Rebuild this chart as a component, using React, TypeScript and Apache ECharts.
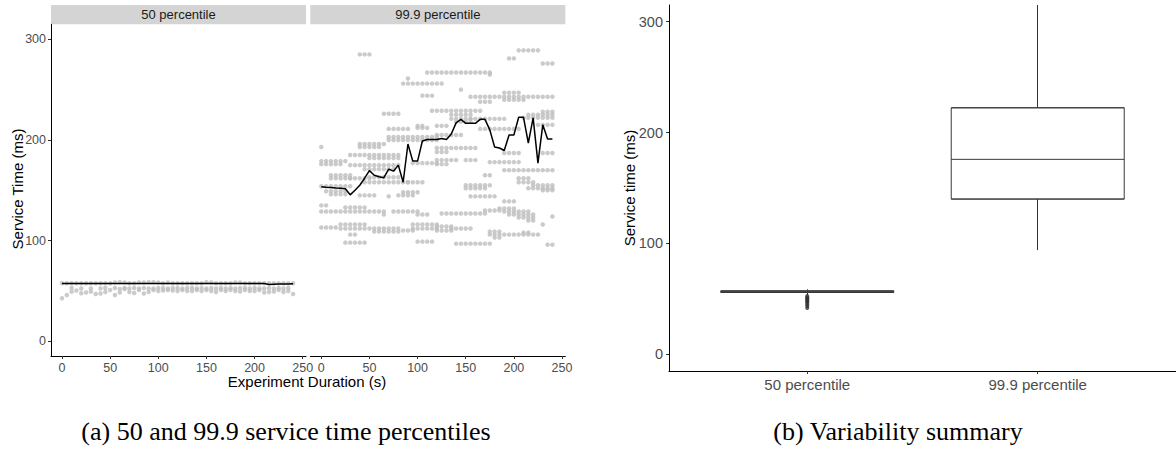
import React, { useEffect, useRef } from "react";
import * as echarts from "echarts";

// ---------- data ----------
const times = [0, 5, 10, 15, 20, 25, 30, 35, 40, 45, 50, 55, 60, 65, 70, 75, 80, 85, 90, 95, 100, 105, 110, 115, 120, 125, 130, 135, 140, 145, 150, 155, 160, 165, 170, 175, 180, 185, 190, 195, 200, 205, 210, 215, 220, 225, 230, 235, 240];

const p50Top = [57.6, 57.6, 57.6, 57.6, 57.6, 57.6, 57.6, 57.6, 57.6, 57.6, 57.6, 58.4, 58.8, 58.4, 57.6, 57.6, 58.4, 58.4, 58.8, 58.8, 58.4, 57.6, 58.4, 57.6, 57.6, 57.6, 57.6, 57.6, 57.6, 57.6, 58.8, 58.4, 57.6, 57.6, 57.6, 57.6, 58.4, 58.4, 57.6, 57.6, 57.6, 57.6, 57.6, 57.6, 57.6, 57.6, 57.6, 57.6, 57.6];
const p50Mid = [null, null, 53, null, 52.5, null, 52.5, null, 52.5, 53, null, 53, 52, 53, 52.5, 53, 52.5, 53, 52.5, 52.5, 53, 53, 52.5, 53, 53, 52.5, 53, 53, 52.5, 53, 52.5, 53, 52.5, 53, 52.5, 53, 52.5, 53, 53, 52.5, 53, 52.5, 52.5, 53, 52.5, 53, 52.5, 53, null];
const p50Low = [42.7, 46, 49.3, 50.5, 47.7, 48.5, 49.3, 47, 47.5, 49, 51, 46, 48.5, 52, 49, 48, 51, 47.5, 49, 51, 50, 50.5, 51, 50.5, 50, 51, 50, 50, 51, 50, 51, 50, 49, 51, 50, 51, 50, 49.5, 51, 50, 50, 51, 48.5, 49, 49.5, 51, 49, 50, 47];
const p50Line = [57.5, 57.4, 57.4, 57.4, 57.4, 57.4, 57.4, 57.4, 57.4, 57.4, 57.4, 57.4, 57.3, 57.3, 57.3, 57.3, 57.3, 57.3, 57.3, 57.3, 57.3, 57.3, 57.3, 57.3, 57.3, 57.3, 57.3, 57.3, 57.3, 57.3, 57.3, 57.3, 57.3, 57.3, 57.3, 57.3, 57.3, 57.3, 57.3, 57.3, 57.3, 57.4, 57.4, 56.4, 56.6, 56.8, 57, 57, 57.1];

const p999Line = [153.6, 153, 152.8, 152.3, 152, 151.5, 145.5, 150, 155, 162, 169.5, 165, 163.5, 162.5, 171, 169, 175, 158, 196, 179, 179, 199, 200.5, 200.5, 200.5, 201.5, 200.5, 206, 217, 220.5, 216.5, 216.5, 216.5, 220.5, 220.5, 210, 193, 192, 189.5, 205, 205, 222.5, 222.5, 197, 222, 177, 215, 201, 201];

// runs of dots in the 99.9 panel: [value (ms), first second, last second]
const p999Runs: [number, number, number][] = [
  [285, 40, 50], [289, 205, 225], [281, 195, 200], [276, 230, 240], [267, 110, 175], [265, 175, 175],
  [261, 90, 90], [256, 85, 125], [250, 145, 145], [244, 105, 115], [243, 155, 240], [247, 190, 205],
  [240, 190, 210], [238, 165, 175], [229, 115, 165], [225, 135, 155], [221, 135, 155], [218, 140, 155],
  [226, 65, 80], [221, 155, 190], [228, 230, 240], [225, 215, 240], [222, 210, 240], [215, 225, 240],
  [214, 120, 130], [211, 165, 205], [211, 70, 90], [212, 100, 110], [214, 100, 105], [205, 120, 145],
  [203, 70, 120], [200, 70, 120], [196, 40, 65], [193, 40, 60], [193, 0, 0], [192, 120, 160],
  [188, 120, 130], [187, 190, 205], [187, 230, 240], [185, 30, 80], [182, 50, 80], [180, 120, 140],
  [176, 120, 130], [180, 150, 160], [179, 0, 25], [176, 0, 20], [177, 95, 120], [178, 175, 205],
  [175, 30, 80], [171, 45, 75], [170, 190, 240], [165, 170, 175], [165, 10, 30], [162, 10, 30],
  [162, 30, 50], [163, 50, 80], [158, 45, 90], [158, 90, 105], [162, 205, 215], [158, 205, 220],
  [154, 0, 30], [155, 150, 175], [152, 150, 170], [155, 220, 240], [152, 215, 240], [150, 230, 240],
  [149, 5, 25], [146, 10, 25], [145, 40, 55], [144, 70, 70], [148, 85, 100], [145, 80, 95],
  [144, 155, 180], [139, 190, 200], [135, 0, 5], [133, 25, 45], [129, 0, 65], [126, 65, 65],
  [129, 75, 100], [126, 100, 110], [127, 125, 170], [130, 170, 185], [132, 185, 200], [129, 190, 215],
  [126, 195, 220], [123, 205, 220], [120, 215, 220], [124, 240, 240], [113, 0, 15], [116, 20, 45],
  [112, 20, 45], [112, 50, 80], [109, 55, 80], [110, 85, 95], [116, 95, 120], [112, 95, 120],
  [114, 120, 135], [110, 120, 135], [112, 135, 155], [116, 230, 230], [109, 175, 185], [106, 175, 225],
  [103, 180, 185], [108, 210, 215], [106, 30, 35], [98, 25, 45], [99, 100, 115], [97, 140, 175],
  [96, 235, 240],
];

const boxCategories = ["50 percentile", "99.9 percentile"];
// [position, lower whisker, Q1, median, Q3, upper whisker]
const boxStats = [
  [1, 53.5, 55.8, 56.5, 57.2, 58.6],
  [2, 94, 140, 175.8, 222.3, 315],
];
const p50Outliers = [41.7, 43.5, 45, 46.5, 47.5, 48.5, 49.5, 50.5, 51.5, 52.5];

const xTicks = [0, 50, 100, 150, 200, 250];
const yTicks = [0, 100, 200, 300];
const boxTicks = [1, 2];

const SANS = "'Liberation Sans', Arial, Helvetica, sans-serif";
const SERIF = "'Liberation Serif', 'Times New Roman', serif";

export default function App() {
  const ref = useRef<HTMLDivElement>(null);

  useEffect(() => {
    if (!ref.current) return;
    const chart = echarts.init(ref.current, undefined, { renderer: "svg" });

    const p999Points: number[][] = [];
    p999Runs.forEach(([v, s, e]) => {
      times.forEach((t) => {
        if (t >= s && t <= e) p999Points.push([t, v]);
      });
    });
    const p50Points: number[][] = [];
    [p50Top, p50Mid, p50Low].forEach((arr) =>
      arr.forEach((v, i) => {
        if (v !== null && v !== undefined) p50Points.push([times[i], v as number]);
      })
    );

    const axisLine = { show: true, onZero: false, lineStyle: { color: "#000", width: 1 } };

    const panelX = (gridIndex: number) => ({
      type: "value",
      gridIndex,
      min: -11.4,
      max: 253.4,
      axisLine,
      axisTick: { show: true, customValues: xTicks, length: 3, lineStyle: { color: "#333" } },
      axisLabel: { customValues: xTicks, color: "#4d4d4d", fontSize: 12.5, margin: 5, fontFamily: SANS },
      splitLine: { show: false },
    });

    const option: any = {
      animation: false,
      backgroundColor: "#fff",
      grid: [
        { left: 51, top: 24.3, width: 255, height: 331.7 },
        { left: 310.3, top: 24.3, width: 255, height: 331.7 },
        { left: 669, top: 5, width: 507, height: 366 },
      ],
      xAxis: [
        panelX(0),
        panelX(1),
        {
          type: "value",
          gridIndex: 2,
          min: 0.4,
          max: 2.6,
          axisLine,
          axisTick: { show: true, customValues: boxTicks, length: 3, lineStyle: { color: "#333" } },
          axisLabel: {
            customValues: boxTicks,
            formatter: (v: number) => boxCategories[Math.round(v) - 1] ?? "",
            color: "#4d4d4d",
            fontSize: 15,
            margin: 6,
            fontFamily: SANS,
          },
          splitLine: { show: false },
        },
      ],
      yAxis: [
        {
          type: "value",
          gridIndex: 0,
          min: -14.6,
          max: 314.9,
          axisLine,
          axisTick: { show: true, customValues: yTicks, length: 3, lineStyle: { color: "#333" } },
          axisLabel: { customValues: yTicks, color: "#4d4d4d", fontSize: 12.5, margin: 5, fontFamily: SANS },
          splitLine: { show: false },
        },
        { type: "value", gridIndex: 1, min: -14.6, max: 314.9, show: false, splitLine: { show: false } },
        {
          type: "value",
          gridIndex: 2,
          min: -15.06,
          max: 315,
          axisLine,
          axisTick: { show: true, customValues: yTicks, length: 3, lineStyle: { color: "#333" } },
          axisLabel: { customValues: yTicks, color: "#4d4d4d", fontSize: 14.5, margin: 6, fontFamily: SANS },
          splitLine: { show: false },
        },
      ],
      series: [
        {
          type: "scatter",
          xAxisIndex: 0,
          yAxisIndex: 0,
          data: p50Points,
          symbolSize: 4.5,
          itemStyle: { color: "#bebebe" },
          silent: true,
        },
        {
          type: "line",
          xAxisIndex: 0,
          yAxisIndex: 0,
          data: times.map((t, i) => [t, p50Line[i]]),
          showSymbol: false,
          lineStyle: { color: "#000", width: 1.5 },
          silent: true,
          z: 3,
        },
        {
          type: "scatter",
          xAxisIndex: 1,
          yAxisIndex: 1,
          data: p999Points,
          symbolSize: 4.5,
          itemStyle: { color: "#bebebe" },
          silent: true,
        },
        {
          type: "line",
          xAxisIndex: 1,
          yAxisIndex: 1,
          data: times.map((t, i) => [t, p999Line[i]]),
          showSymbol: false,
          lineStyle: { color: "#000", width: 1.5 },
          silent: true,
          z: 3,
        },
        {
          type: "boxplot",
          xAxisIndex: 2,
          yAxisIndex: 2,
          data: boxStats.map((b) => [b[0], b[2], b[2], b[3], b[4], b[4]]),
          boxWidth: [173, 173],
          itemStyle: { color: "#fff", borderColor: "#3a3a3a", borderWidth: 1 },
          silent: true,
        },
        {
          type: "lines",
          coordinateSystem: "cartesian2d",
          xAxisIndex: 2,
          yAxisIndex: 2,
          data: boxStats.flatMap((b) => [
            { coords: [[b[0], b[1]], [b[0], b[2]]] },
            { coords: [[b[0], b[4]], [b[0], b[5]]] },
          ]),
          lineStyle: { color: "#333", width: 1, opacity: 1 },
          silent: true,
        },
        {
          type: "scatter",
          xAxisIndex: 2,
          yAxisIndex: 2,
          data: p50Outliers.map((v) => [1, v]),
          symbolSize: 4,
          itemStyle: { color: "#333" },
          silent: true,
        },
      ],
      graphic: [
        { type: "rect", shape: { x: 51, y: 5, width: 255, height: 19.3 }, style: { fill: "#d4d4d4" }, silent: true },
        { type: "rect", shape: { x: 310.3, y: 5, width: 255, height: 19.3 }, style: { fill: "#d4d4d4" }, silent: true },
        {
          type: "text", x: 178.5, y: 14.7, silent: true,
          style: { text: "50 percentile", fontSize: 13, fontFamily: SANS, fill: "#1a1a1a", align: "center", verticalAlign: "middle" },
        },
        {
          type: "text", x: 437.8, y: 14.7, silent: true,
          style: { text: "99.9 percentile", fontSize: 13, fontFamily: SANS, fill: "#1a1a1a", align: "center", verticalAlign: "middle" },
        },
        {
          type: "text", x: 307, y: 381, silent: true,
          style: { text: "Experiment Duration (s)", fontSize: 15, fontFamily: SANS, fill: "#000", align: "center", verticalAlign: "middle" },
        },
        {
          type: "text", x: 17, y: 189, rotation: Math.PI / 2, silent: true,
          style: { text: "Service Time (ms)", fontSize: 15, fontFamily: SANS, fill: "#000", align: "center", verticalAlign: "middle" },
        },
        {
          type: "text", x: 629, y: 188, rotation: Math.PI / 2, silent: true,
          style: { text: "Service time (ms)", fontSize: 15, fontFamily: SANS, fill: "#000", align: "center", verticalAlign: "middle" },
        },
        {
          type: "text", x: 286, y: 431, silent: true,
          style: { text: "(a) 50 and 99.9 service time percentiles", fontSize: 26, fontFamily: SERIF, fill: "#000", align: "center", verticalAlign: "middle" },
        },
        {
          type: "text", x: 898, y: 431, silent: true,
          style: { text: "(b) Variability summary", fontSize: 26, fontFamily: SERIF, fill: "#000", align: "center", verticalAlign: "middle" },
        },
      ],
    };

    chart.setOption(option);
    return () => chart.dispose();
  }, []);

  return (
    <div
      ref={ref}
      style={{ position: "fixed", left: 0, top: 0, width: 1176, height: 450, background: "#fff" }}
    />
  );
}
